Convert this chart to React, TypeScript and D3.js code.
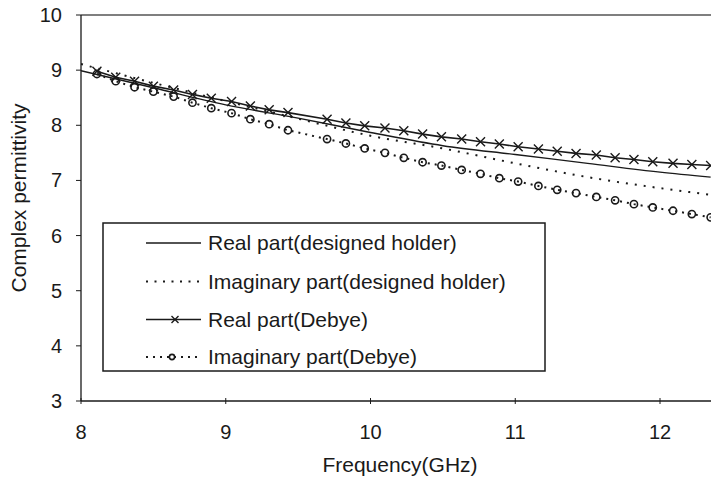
import React, { useEffect, useRef } from 'react'
import * as d3 from 'd3'

// frequencies (GHz) of the Debye model points (markers)
const debyeFreq = [8.11, 8.24, 8.37, 8.5, 8.64, 8.77, 8.9, 9.04, 9.17, 9.3, 9.43, 9.7, 9.83, 9.96, 10.1, 10.23,
  10.36, 10.49, 10.63, 10.76, 10.89, 11.02, 11.16, 11.29, 11.42, 11.56, 11.69, 11.82, 11.95, 12.09, 12.22, 12.35]
const debyeReal = [8.98, 8.87, 8.8, 8.71, 8.64, 8.56, 8.49, 8.43, 8.35, 8.28, 8.23, 8.11, 8.04, 7.99, 7.95, 7.9,
  7.84, 7.79, 7.75, 7.7, 7.66, 7.61, 7.57, 7.53, 7.49, 7.46, 7.41, 7.38, 7.34, 7.31, 7.29, 7.27]
const debyeImag = [8.93, 8.8, 8.69, 8.61, 8.52, 8.41, 8.31, 8.22, 8.11, 8.02, 7.91, 7.75, 7.67, 7.58, 7.5, 7.41,
  7.33, 7.27, 7.19, 7.12, 7.04, 6.98, 6.9, 6.83, 6.77, 6.7, 6.64, 6.57, 6.51, 6.45, 6.39, 6.33]

// measured with the designed holder
const holderFreq = [8.0, 8.5, 9.0, 9.5, 10.0, 10.5, 11.0, 11.5, 12.0, 12.35]
const holderReal = [8.99, 8.68, 8.37, 8.13, 7.87, 7.63, 7.47, 7.31, 7.15, 7.06]
const holderImag = [9.11, 8.77, 8.44, 8.12, 7.81, 7.58, 7.31, 7.06, 6.86, 6.74]

const xTicks = [8, 9, 10, 11, 12]
const yTicks = [3, 4, 5, 6, 7, 8, 9, 10]
const legendLabels = [
  'Real part(designed holder)',
  'Imaginary part(designed holder)',
  'Real part(Debye)',
  'Imaginary part(Debye)',
]

const W = 711
const H = 480
const FONT = '"Liberation Sans", Arial, Helvetica, sans-serif'
const INK = '#1a1a1a'

function Chart() {
  const ref = useRef<SVGSVGElement>(null)

  useEffect(() => {
    const svg = d3.select(ref.current)
    svg.selectAll('*').remove()

    const x = d3.scaleLinear().domain([8, 12]).range([81, 660])
    const y = d3.scaleLinear().domain([3, 10]).range([401, 15])

    svg.append('defs').append('clipPath').attr('id', 'plot')
      .append('rect').attr('x', x(8)).attr('y', y(10)).attr('width', W - x(8)).attr('height', y(3) - y(10))

    // frame: top border, left and bottom axes
    svg.append('line').attr('x1', x(8)).attr('x2', W).attr('y1', y(10)).attr('y2', y(10))
      .attr('stroke', '#555').attr('stroke-width', 1.5)
    svg.append('line').attr('x1', x(8)).attr('x2', x(8)).attr('y1', y(10)).attr('y2', y(3))
      .attr('stroke', INK).attr('stroke-width', 1.3)
    svg.append('line').attr('x1', x(8)).attr('x2', W).attr('y1', y(3)).attr('y2', y(3))
      .attr('stroke', INK).attr('stroke-width', 1.3)

    const yAxis = svg.append('g')
    yAxis.selectAll('line').data(yTicks).enter().append('line')
      .attr('x1', x(8) - 5).attr('x2', x(8)).attr('y1', d => y(d)).attr('y2', d => y(d))
      .attr('stroke', INK).attr('stroke-width', 1)
    yAxis.selectAll('text').data(yTicks).enter().append('text')
      .attr('x', 62).attr('y', d => y(d) + 7).attr('text-anchor', 'end')
      .style('font-family', FONT).style('font-size', '20px').attr('fill', INK)
      .text(d => d)

    const xAxis = svg.append('g')
    xAxis.selectAll('line').data(xTicks).enter().append('line')
      .attr('x1', d => x(d)).attr('x2', d => x(d)).attr('y1', y(3) - 3).attr('y2', y(3) + 3)
      .attr('stroke', INK).attr('stroke-width', 1)
    xAxis.selectAll('text').data(xTicks).enter().append('text')
      .attr('x', d => x(d)).attr('y', 439).attr('text-anchor', 'middle')
      .style('font-family', FONT).style('font-size', '20px').attr('fill', INK)
      .text(d => d)

    svg.append('text').attr('x', 400).attr('y', 472).attr('text-anchor', 'middle')
      .style('font-family', FONT).style('font-size', '21px').attr('fill', INK)
      .text('Frequency(GHz)')
    svg.append('text').attr('transform', 'translate(26,198) rotate(-90)').attr('text-anchor', 'middle')
      .style('font-family', FONT).style('font-size', '21px').attr('fill', INK)
      .text('Complex permittivity')

    const plot = svg.append('g').attr('clip-path', 'url(#plot)')
    const line = d3.line<[number, number]>().x(d => x(d[0])).y(d => y(d[1]))
    const smooth = d3.line<[number, number]>().x(d => x(d[0])).y(d => y(d[1])).curve(d3.curveMonotoneX)

    const hr = holderFreq.map((f, i) => [f, holderReal[i]] as [number, number])
    const hi = holderFreq.map((f, i) => [f, holderImag[i]] as [number, number])
    const dr = debyeFreq.map((f, i) => [f, debyeReal[i]] as [number, number])
    const di = debyeFreq.map((f, i) => [f, debyeImag[i]] as [number, number])

    plot.append('path').attr('d', smooth(hr)).attr('fill', 'none')
      .attr('stroke', INK).attr('stroke-width', 1.4)
    plot.append('path').attr('d', smooth(hi)).attr('fill', 'none')
      .attr('stroke', INK).attr('stroke-width', 2).attr('stroke-dasharray', '2,7')
    plot.append('path').attr('d', line(dr)).attr('fill', 'none')
      .attr('stroke', INK).attr('stroke-width', 1.6)
    plot.append('path').attr('d', line(di)).attr('fill', 'none')
      .attr('stroke', INK).attr('stroke-width', 2).attr('stroke-dasharray', '2,5')

    const cross = (g: any, cx: number, cy: number, s: number) => {
      g.append('path')
        .attr('d', `M${cx - s},${cy - s}L${cx + s},${cy + s}M${cx - s},${cy + s}L${cx + s},${cy - s}`)
        .attr('stroke', INK).attr('stroke-width', 1.4).attr('fill', 'none')
    }
    const ring = (g: any, cx: number, cy: number, r: number) => {
      g.append('circle').attr('cx', cx).attr('cy', cy).attr('r', r)
        .attr('stroke', INK).attr('stroke-width', 1.6).attr('fill', 'none')
    }
    dr.forEach(d => cross(plot, x(d[0]), y(d[1]), 4.5))
    di.forEach(d => ring(plot, x(d[0]), y(d[1]), 3.6))

    // legend
    const lg = svg.append('g')
    lg.append('rect').attr('x', 103).attr('y', 223).attr('width', 442).attr('height', 148)
      .attr('fill', 'white').attr('stroke', INK).attr('stroke-width', 1.5)
    const rowY = [243, 281.5, 319.5, 357]
    legendLabels.forEach((label, i) => {
      const ly = rowY[i]
      const seg = lg.append('line').attr('x1', 146).attr('x2', 201).attr('y1', ly).attr('y2', ly)
        .attr('stroke', INK)
      if (i === 0) seg.attr('stroke-width', 1.4)
      if (i === 1) seg.attr('stroke-width', 2).attr('stroke-dasharray', '2,6.5')
      if (i === 2) { seg.attr('stroke-width', 1.6); cross(lg, 175, ly, 3.5) }
      if (i === 3) { seg.attr('stroke-width', 2).attr('stroke-dasharray', '2,5'); ring(lg, 172, ly, 2.6) }
      lg.append('text').attr('x', 208).attr('y', ly + 7)
        .style('font-family', FONT).style('font-size', '21px').attr('fill', INK)
        .text(label)
    })
  }, [])

  return <svg ref={ref} width={W} height={H} style={{ position: 'absolute', left: 0, top: 0, background: 'white' }} />
}

export default function App() {
  return <Chart />
}
